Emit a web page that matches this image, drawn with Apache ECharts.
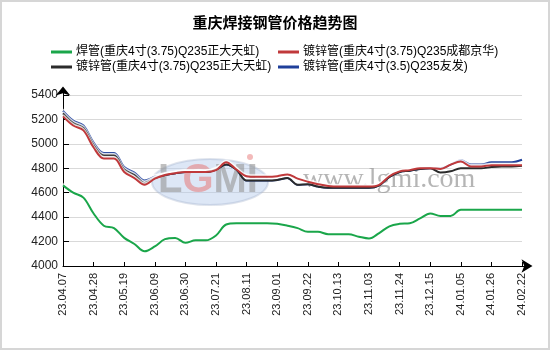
<!DOCTYPE html>
<html>
<head>
<meta charset="utf-8">
<script src="https://cdn.jsdelivr.net/npm/echarts@6/dist/echarts.min.js"></script>
<style>
  html, body { margin: 0; padding: 0; background: #fff; }
  #chart { width: 550px; height: 350px; }
</style>
</head>
<body>
<div id="chart"></div>
<script>
// Weekly quotation dates
var dates = [
  '23.04.07','23.04.14','23.04.21','23.04.28','23.05.05','23.05.12','23.05.19','23.05.26',
  '23.06.02','23.06.09','23.06.16','23.06.23','23.06.30','23.07.07','23.07.14','23.07.21',
  '23.07.28','23.08.04','23.08.11','23.08.18','23.08.25','23.09.01','23.09.08','23.09.15',
  '23.09.22','23.09.29','23.10.06','23.10.13','23.10.20','23.10.27','23.11.03','23.11.10',
  '23.11.17','23.11.24','23.12.01','23.12.08','23.12.15','23.12.22','23.12.29','24.01.05',
  '24.01.12','24.01.19','24.01.26','24.02.02','24.02.08','24.02.22'
];

// 焊管 重庆 4寸(3.75) Q235 正大天虹
var weldedZhengda = [
  4660, 4600, 4560, 4430, 4330, 4310, 4230, 4180, 4120, 4160, 4220, 4230, 4190, 4210, 4210, 4250,
  4340, 4350, 4350, 4350, 4350, 4345, 4330, 4310, 4280, 4280, 4260, 4260, 4260, 4240, 4225, 4270,
  4325, 4345, 4350, 4390, 4430, 4410, 4410, 4460, 4460, 4460, 4460, 4460, 4460, 4460
];

// 镀锌管 重庆 4寸(3.75) Q235 成都京华
var galvJinghua = [
  5225, 5150, 5110, 4970, 4880, 4880, 4770, 4720, 4665, 4715, 4745, 4760, 4770, 4770, 4770, 4785,
  4850, 4790, 4735, 4730, 4730, 4735, 4750, 4715, 4690, 4670, 4655, 4650, 4650, 4650, 4650, 4665,
  4735, 4775, 4785, 4800, 4800, 4795, 4830, 4855, 4815, 4815, 4825, 4825, 4825, 4825
];

// 镀锌管 重庆 4寸(3.75) Q235 正大天虹
var galvZhengda = [
  5250, 5170, 5130, 4990, 4905, 4905, 4790, 4745, 4680, 4720, 4745, 4760, 4770, 4770, 4770, 4790,
  4830, 4790, 4700, 4700, 4700, 4705, 4720, 4665, 4670, 4650, 4640, 4640, 4640, 4640, 4640, 4660,
  4730, 4770, 4780, 4795, 4800, 4765, 4775, 4800, 4800, 4800, 4810, 4815, 4815, 4820
];

// 镀锌管 重庆 4寸(3.5) Q235 友发
var galvYoufa = [
  5270, 5190, 5150, 5010, 4925, 4925, 4810, 4765, 4700, 4730, 4745, 4760, 4770, 4770, 4770, 4790,
  4830, 4790, 4700, 4700, 4700, 4705, 4720, 4665, 4670, 4650, 4640, 4640, 4640, 4640, 4640, 4660,
  4730, 4770, 4780, 4795, 4800, 4800, 4830, 4865, 4830, 4830, 4850, 4850, 4850, 4870
];

var seriesNames = [
  '焊管(重庆4寸(3.75)Q235正大天虹)',
  '镀锌管(重庆4寸(3.75)Q235成都京华)',
  '镀锌管(重庆4寸(3.75)Q235正大天虹)',
  '镀锌管(重庆4寸(3.5)Q235友发)'
];

var yMin = 4000, yMax = 5400, yStep = 200;

var chart = echarts.init(document.getElementById('chart'), null, { renderer: 'canvas' });

var FONT = '"Liberation Sans", Arial, "Noto Sans CJK SC", sans-serif';

function lineSeries(name, data, color, z) {
  return {
    name: name,
    type: 'line',
    data: data,
    smooth: 0.35,
    symbol: 'none',
    z: z,
    lineStyle: {
      color: color,
      width: 2,
      shadowColor: 'rgba(255,255,255,0.9)',
      shadowBlur: 1,
      shadowOffsetY: -1.5
    },
    itemStyle: { color: color }
  };
}

var legendCommon = {
  orient: 'vertical',
  itemWidth: 21,
  itemHeight: 12,
  itemGap: 3,
  icon: 'path://M0,5 L21,5 L21,8 L0,8 Z',
  textStyle: { fontSize: 12, color: '#000', fontFamily: FONT, padding: [0, 0, 0, -1] },
  selectedMode: false
};

var option = {
  animation: false,
  backgroundColor: '#fff',
  title: {
    text: '重庆焊接钢管价格趋势图',
    left: 'center',
    top: 10,
    textStyle: { fontSize: 15, fontWeight: 'bold', color: '#000', fontFamily: '"Noto Sans CJK SC", sans-serif' }
  },
  legend: [
    Object.assign({ left: 46, top: 41, data: [seriesNames[0], seriesNames[2]] }, legendCommon),
    Object.assign({ left: 273, top: 41, data: [seriesNames[1], seriesNames[3]] }, legendCommon)
  ],
  grid: { left: 63, right: 28, top: 95, bottom: 84 },
  xAxis: {
    type: 'category',
    data: dates,
    boundaryGap: false,
    axisLine: {
      lineStyle: { color: '#000', width: 1 },
      symbol: ['none', 'arrow'],
      symbolSize: [10, 11],
      symbolOffset: [0, 10.5]
    },
    axisTick: { show: true, inside: true, length: 4, interval: 2, lineStyle: { color: '#000' } },
    axisLabel: {
      interval: 2,
      rotate: 90,
      fontSize: 11,
      color: '#222',
      fontFamily: FONT,
      margin: 7
    },
    splitLine: { show: false }
  },
  yAxis: {
    type: 'value',
    min: yMin,
    max: yMax,
    interval: yStep,
    axisLine: {
      show: true,
      lineStyle: { color: '#000', width: 1 },
      symbol: ['none', 'arrow'],
      symbolSize: [11, 9],
      symbolOffset: [0, 8.5]
    },
    axisTick: { show: true, inside: true, length: 6, lineStyle: { color: '#000' } },
    axisLabel: {
      fontSize: 12, color: '#222', fontFamily: FONT, margin: 5,
      formatter: function (v) { return String(v); }
    },
    splitLine: { show: true, lineStyle: { color: '#d9d9d9', width: 1 } }
  },
  graphic: [
    { type: 'rect', z: 0, silent: true,
      shape: { x: 1, y: 1, width: 548, height: 348 },
      style: { fill: 'none', stroke: '#d6d6d6', lineWidth: 2 } },
    // site watermark
    { type: 'ellipse', z: 1, silent: true,
      shape: { cx: 210, cy: 182, rx: 58, ry: 23 },
      style: { fill: 'rgba(180,202,235,0.45)', stroke: 'rgba(160,175,200,0.35)', lineWidth: 2 } },
    { type: 'text', z: 1, silent: true, left: 158, top: 161,
      style: {
        text: '{g|L}{r|G}{g|MI}',
        rich: {
          g: { fontSize: 40, fontWeight: 'bold', fontFamily: '"Liberation Sans", sans-serif', fill: 'rgba(150,150,150,0.6)' },
          r: { fontSize: 40, fontWeight: 'bold', fontFamily: '"Liberation Sans", sans-serif', fill: 'rgba(230,130,130,0.6)' }
        }
      } },
    { type: 'circle', z: 1, silent: true, shape: { cx: 250, cy: 157, r: 3 },
      style: { fill: 'rgba(235,140,140,0.6)' } },
    { type: 'text', z: 1, silent: true, left: 303, top: 166,
      style: { text: 'www.lgmi.com', fontSize: 28, fontFamily: '"Liberation Serif", serif', fill: 'rgba(150,150,150,0.7)' } },
    // axis line run-out up to the arrow heads
    { type: 'line', z: 3, silent: true, shape: { x1: 522, y1: 266.5, x2: 528, y2: 266.5 }, style: { stroke: '#000', lineWidth: 1 } },
    { type: 'line', z: 3, silent: true, shape: { x1: 63.5, y1: 95, x2: 63.5, y2: 89 }, style: { stroke: '#000', lineWidth: 1 } }
  ],
  series: [
    lineSeries(seriesNames[0], weldedZhengda, '#1aa64a', 6),
    lineSeries(seriesNames[1], galvJinghua, '#c0393b', 5),
    lineSeries(seriesNames[2], galvZhengda, '#2b2b2b', 4),
    lineSeries(seriesNames[3], galvYoufa, '#1f3f9a', 3)
  ]
};

chart.setOption(option);
</script>
</body>
</html>
